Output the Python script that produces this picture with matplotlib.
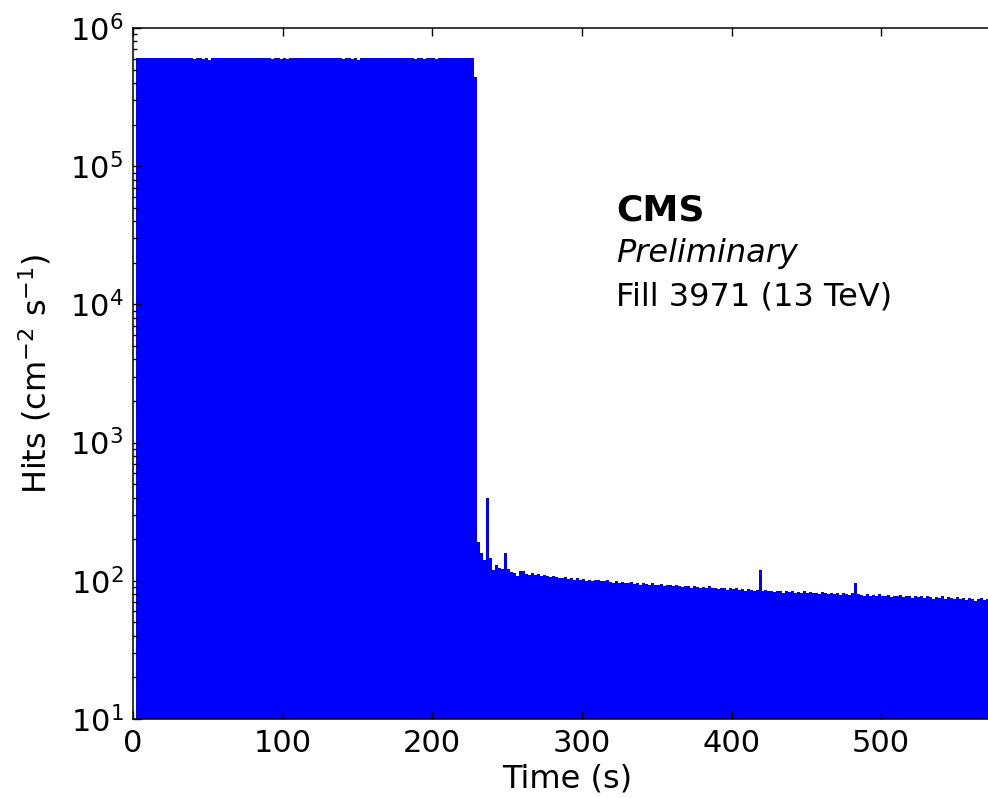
import numpy as np
import matplotlib
matplotlib.use('Agg')
import matplotlib.pyplot as plt

# bin width (s) of the hit-rate histogram
bin_width = 2

# beam-on plateau, t = 2 ... 230 s, in units of 1e5 cm^-2 s^-1
plateau_start = 2
plateau = [
    6.05, 6.05, 6.05, 6.05, 6.05, 6.05, 6.05, 6.05, 6.05, 6.05,
    6.05, 6.05, 6.05, 6.05, 6.05, 6.05, 6.05, 6.05, 6.05, 5.92,
    6.05, 6.05, 5.93, 6.05, 5.91, 6.05, 6.05, 6.05, 6.05, 6.05,
    6.05, 6.05, 6.05, 6.05, 6.05, 6.05, 6.05, 6.05, 6.05, 6.05,
    6.05, 6.05, 6.05, 6.05, 6.05, 5.92, 6.05, 6.05, 5.93, 6.05,
    5.92, 6.05, 6.05, 6.05, 6.05, 6.05, 6.05, 6.05, 6.05, 6.05,
    6.05, 6.05, 6.05, 6.05, 6.05, 6.05, 6.05, 6.05, 6.05, 5.92,
    6.05, 6.05, 5.93, 6.05, 5.91, 6.05, 6.05, 6.05, 6.05, 6.05,
    6.05, 6.05, 6.05, 6.05, 6.05, 6.05, 6.05, 6.05, 6.05, 6.05,
    6.05, 6.05, 6.05, 5.92, 6.05, 6.05, 5.93, 6.05, 6.05, 6.05,
    5.92, 6.05, 6.05, 6.05, 6.05, 6.05, 6.05, 6.05, 6.05, 6.05,
    6.05, 6.05, 6.05, 4.40,
]

# after beam dump, t = 230 ... 600 s, cm^-2 s^-1
tail_start = 230
tail = [
    190, 160, 142, 400, 145, 120, 131, 124, 122, 158,
    122, 116, 113, 109, 118, 117, 112, 110, 113, 111,
    112, 109, 111, 108, 106, 109, 107, 105, 104, 106,
    103, 105, 102, 104, 101, 103, 100, 102, 99, 101,
    102, 100, 99, 101, 98, 97, 99, 96, 98, 97,
    96, 98, 95, 97, 94, 96, 95, 93, 96, 94,
    93, 95, 92, 94, 93, 91, 93, 92, 90, 92,
    91, 89, 91, 90, 88, 90, 89, 91, 88, 89,
    87, 89, 88, 86, 88, 87, 89, 86, 87, 85,
    87, 86, 84, 86, 120, 85, 86, 84, 85, 83,
    85, 84, 82, 84, 83, 85, 82, 83, 81, 84,
    82, 83, 81, 82, 80, 83, 81, 80, 82, 80,
    81, 79, 82, 80, 79, 81, 96, 80, 79, 78,
    80, 78, 79, 77, 80, 78, 77, 79, 76, 78,
    77, 79, 76, 78, 77, 75, 78, 76, 77, 75,
    77, 76, 74, 76, 75, 77, 74, 76, 75, 74,
    76, 74, 75, 73, 75, 74, 72, 74, 75, 73,
    74, 72, 74, 73, 71, 73, 72, 74, 71, 73, 72, 74, 72, 71, 73,
]

values = np.concatenate([np.array(plateau) * 1e5, np.array(tail, dtype=float)])
edges = plateau_start + bin_width * np.arange(len(values) + 1)

plt.rcParams['font.family'] = 'DejaVu Sans'
plt.rcParams['mathtext.default'] = 'regular'

fig = plt.figure(figsize=(9.88, 7.98), dpi=100)
# axes run past the right edge of the picture, as in the original crop
ax = fig.add_axes([0.1346, 0.099, 0.8785, 0.8659])

ax.stairs(values, edges, fill=True, baseline=10, color='#0000ff', linewidth=0)

ax.set_yscale('log')
ax.set_xlim(0, 580)
ax.set_ylim(10, 1e6)
ax.set_xticks([0, 100, 200, 300, 400, 500])

ax.tick_params(which='both', direction='in', top=True, right=True, labelsize=22)
ax.tick_params(which='major', length=6, width=1, pad=7)
ax.tick_params(which='minor', length=3, width=1)
for s in ax.spines.values():
    s.set_linewidth(1.1)

ax.set_xlabel('Time (s)', fontsize=23, labelpad=4)
ax.set_ylabel('Hits (cm$^{-2}$ s$^{-1}$)', fontsize=23, labelpad=12)

ax.text(0.557, 0.722, 'CMS', transform=ax.transAxes, fontsize=26,
        fontweight='bold', va='baseline')
ax.text(0.557, 0.662, 'Preliminary', transform=ax.transAxes, fontsize=23,
        style='italic', va='baseline')
ax.text(0.557, 0.598, 'Fill 3971 (13 TeV)', transform=ax.transAxes,
        fontsize=23, va='baseline')

fig.savefig('out.png', dpi=100)
